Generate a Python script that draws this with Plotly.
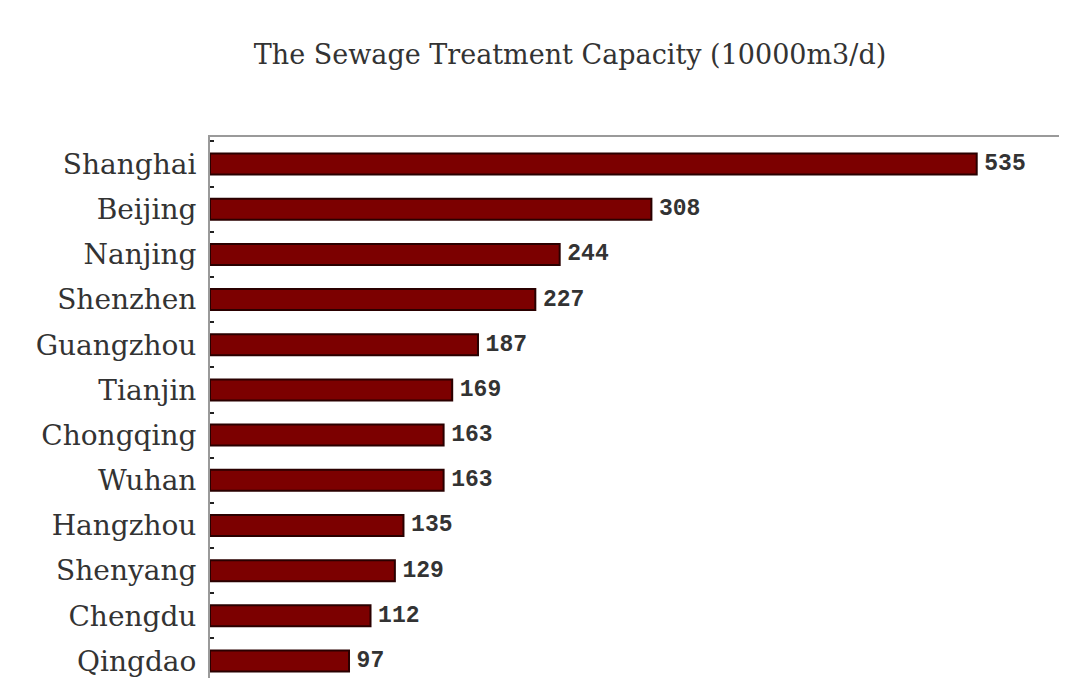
import plotly.graph_objects as go

cities = ["Shanghai", "Beijing", "Nanjing", "Shenzhen", "Guangzhou", "Tianjin",
          "Chongqing", "Wuhan", "Hangzhou", "Shenyang", "Chengdu", "Qingdao"]
capacity = [535, 308, 244, 227, 187, 169, 163, 163, 135, 129, 112, 97]

title_text = "The Sewage Treatment Capacity (10000m3/d)"

fig = go.Figure(
    go.Bar(
        x=capacity,
        y=cities,
        orientation="h",
        marker=dict(color="#7c0000", line=dict(color="#2a0000", width=2)),
        text=capacity,
        texttemplate="\u2009%{x}",
        textposition="outside",
        constraintext="none",
        textfont=dict(family="Liberation Mono", size=23, color="#333333", weight="bold"),
        cliponaxis=False,
    )
)

fig.update_layout(
    width=1059,
    height=670,
    margin=dict(l=202, r=0, t=129, b=0),
    paper_bgcolor="white",
    plot_bgcolor="white",
    showlegend=False,
    bargap=0.535,
    title=dict(
        text=title_text,
        x=562 / 1059, xref="container", xanchor="center",
        y=1 - 47 / 670, yref="container", yanchor="middle",
        font=dict(family="DejaVu Serif", size=27, color="#333333"),
    ),
    xaxis=dict(
        range=[0, 598],
        side="top",
        showline=True, linecolor="#9a9a9a", linewidth=2,
        showgrid=False, zeroline=False, showticklabels=False, ticks="",
    ),
    yaxis=dict(
        categoryorder="array", categoryarray=cities,
        range=[11.376, -0.598],
        showline=True, linecolor="#9a9a9a", linewidth=2,
        showgrid=False, zeroline=False,
        ticks="inside", ticklen=4, tickwidth=2, tickcolor="#222222",
        tickson="boundaries",
        ticklabelstandoff=6,
        tickfont=dict(family="DejaVu Serif", size=28, color="#333333"),
    ),
)

fig.write_html("out.html")
